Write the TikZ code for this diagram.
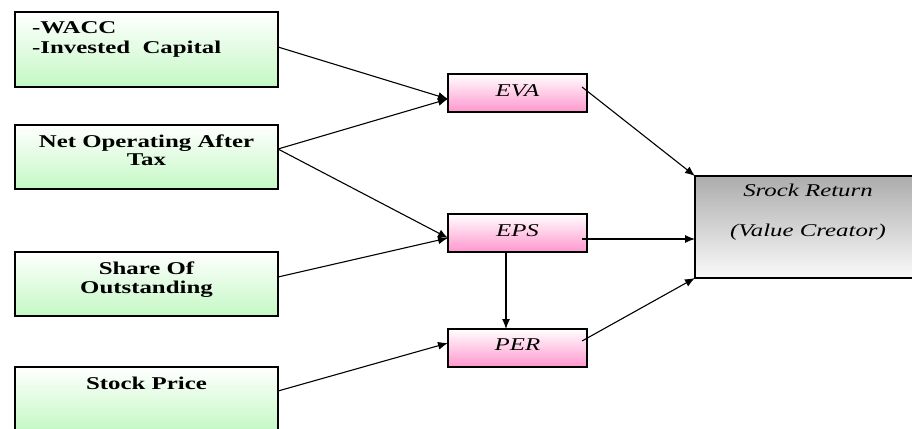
\documentclass[tikz,border=0pt]{standalone}
\usepackage{fontspec}
\setmainfont{Liberation Serif}[FakeStretch=1.38]
\usetikzlibrary{arrows.meta}
\definecolor{greenbot}{RGB}{196,248,196}
\definecolor{pinkbot}{RGB}{255,150,205}
\definecolor{graytop}{RGB}{172,172,172}
\definecolor{graybot}{RGB}{250,250,250}
\tikzset{
  box/.style={draw=black, line width=1.1pt, rectangle, inner sep=0pt, outer sep=0pt, anchor=north west},
  inbox/.style={box, top color=white, bottom color=greenbot, minimum width=263pt},
  midbox/.style={box, top color=white, bottom color=pinkbot, minimum width=139pt, minimum height=38pt},
  outbox/.style={box, top color=graytop, bottom color=graybot, minimum width=226pt, minimum height=102pt},
  btxt/.style={inner sep=0pt, anchor=base, font=\fontsize{18}{20}\selectfont\bfseries},
  itxt/.style={inner sep=0pt, anchor=base, font=\fontsize{18}{20}\selectfont\itshape},
  arr/.style={line width=1.1pt, -{Latex[length=10pt,width=8pt]}},
}
\begin{document}
\begin{tikzpicture}[x=1pt,y=-1pt]
\useasboundingbox (0,0) rectangle (912,428);
\clip (0,0) rectangle (912,428);
% input boxes
\node[inbox, minimum height=75pt] (b1) at (15,12) {};
\node[inbox, minimum height=64pt] (b2) at (15,125) {};
\node[inbox, minimum height=64pt] (b3) at (15,252) {};
\node[inbox, minimum height=64pt] (b4) at (15,367) {};
\node[btxt, anchor=base west] (t1a) at (32,33.3) {-WACC};
\node[btxt, anchor=base west] (t1b) at (32,53.3) {-Invested\ \ Capital};
\node[btxt] (t2a) at (146.5,147.3) {Net Operating After};
\node[btxt] (t2b) at (146.5,165) {Tax};
\node[btxt] (t3a) at (146.5,274) {Share Of};
\node[btxt] (t3b) at (146.5,293) {Outstanding};
\node[btxt] (t4a) at (146.5,389) {Stock Price};
% middle boxes
\node[midbox] (eva) at (448,74) {};
\node[midbox] (eps) at (448,214) {};
\node[midbox] (per) at (448,329) {};
\node[itxt] (teva) at (517.5,96) {EVA};
\node[itxt] (teps) at (517.5,236) {EPS};
\node[itxt] (tper) at (517.5,350) {PER};
% output box
\node[outbox] (ret) at (695,176) {};
\node[itxt] (tret1) at (808,196.7) {Srock Return};
\node[itxt] (tret2) at (808,236.7) {(Value Creator)};
% connectors
\draw[arr] ([yshift=2.5pt]b1.east) -- ([yshift=-6pt]eva.west);
\draw[arr] ([yshift=8pt]b2.east) -- ([yshift=-6pt]eva.west);
\draw[arr] ([yshift=8pt]b2.east) -- ([yshift=-5pt]eps.west);
\draw[arr] ([yshift=7pt]b3.east) -- ([yshift=-5pt]eps.west);
\draw[arr] ([yshift=8pt]b4.east) -- ([yshift=5pt]per.west);
\draw[arr] ([xshift=-11.5pt]eps.south) -- ([xshift=-11.5pt]per.north);
\draw[arr] ([shift={(-5pt,6pt)}]eva.east) -- (ret.north west);
\draw[arr] ([shift={(-5pt,-6pt)}]eps.east) -- ([yshift=-12pt]ret.west);
\draw[arr] ([shift={(-5pt,7pt)}]per.east) -- (ret.south west);
\end{tikzpicture}
\end{document}
